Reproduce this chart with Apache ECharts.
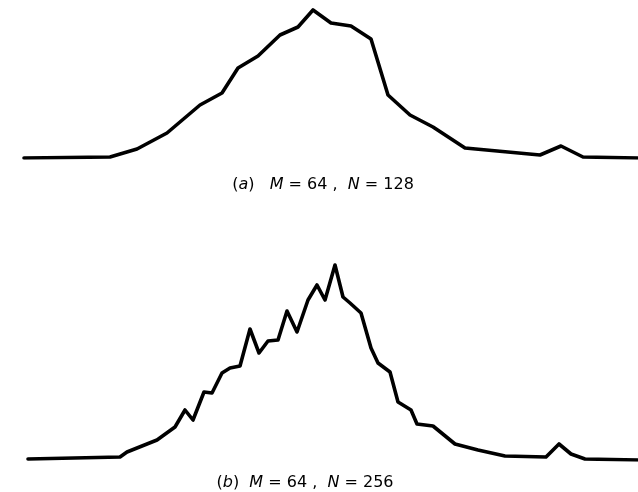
<!DOCTYPE html>
<html><head><meta charset="utf-8">
<script src="https://cdn.jsdelivr.net/npm/echarts@6/dist/echarts.min.js"></script>
<style>html,body{margin:0;padding:0;background:#fff}#c{width:638px;height:492px}</style>
</head><body><div id="c"></div>
<script>
// Panel (a): M=64, N=128
const xA = [24,110,137,167,200,222,238,258,280,298,313,331,351,371,388,410,433,465,540,561,583,638];
const yA = [0,1,9,25,53,65,90,102,123,131,148,135,132,119,63,43,31,10,3,12,1,0];
// Panel (b): M=64, N=256
const xB = [28,120,127,157,175,185,193,204,212,222,230,240,250,259,268,278,287,297,308,317,325,335,343,350,361,371,378,390,398,411,417,433,455,478,505,546,559,571,585,638];
const yB = [1,3,8,20,33,50,40,68,67,87,92,94,131,107,119,120,149,128,160,175,160,195,163,157,147,112,97,88,58,50,36,34,16,10,4,3,16,6,1,0];

const chart = echarts.init(document.getElementById('c'));
const ax = {show:false};
const lineStyle = {color:'#000', width:3.6, join:'round', cap:'round'};
const rich = {
  n:{fontFamily:'DejaVu Sans', fontSize:16, fontWeight:'normal', color:'#000'},
  i:{fontFamily:'DejaVu Sans', fontSize:16, fontWeight:'normal', fontStyle:'italic', color:'#000'}
};
chart.setOption({
  animation:false,
  backgroundColor:'#fff',
  title:[
    {text:'{n|(}{i|a}{n|)   }{i|M}{n| = 64 ,  }{i|N}{n| = 128}', left:318, top:172, textAlign:'center', textStyle:{fontWeight:'normal', rich}},
    {text:'{n|(}{i|b}{n|)  }{i|M}{n| = 64 ,  }{i|N}{n| = 256}', left:300, top:470, textAlign:'center', textStyle:{fontWeight:'normal', rich}}
  ],
  grid:[
    {left:0, top:0, width:638, height:158},
    {left:0, top:250, width:638, height:210}
  ],
  xAxis:[
    {type:'value', min:0, max:638, gridIndex:0, ...ax},
    {type:'value', min:0, max:638, gridIndex:1, ...ax}
  ],
  yAxis:[
    {type:'value', min:0, max:158, gridIndex:0, ...ax},
    {type:'value', min:0, max:210, gridIndex:1, ...ax}
  ],
  series:[
    {type:'line', xAxisIndex:0, yAxisIndex:0, showSymbol:false, lineStyle, data:xA.map((x,i)=>[x,yA[i]])},
    {type:'line', xAxisIndex:1, yAxisIndex:1, showSymbol:false, lineStyle, data:xB.map((x,i)=>[x,yB[i]])}
  ]
});
</script></body></html>
